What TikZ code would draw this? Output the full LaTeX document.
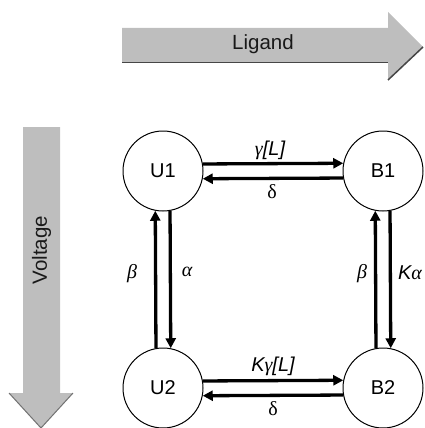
\documentclass[tikz,border=0pt]{standalone}
\usepackage{fontspec}
\setmainfont{Liberation Sans}
\newfontfamily\grk{Liberation Serif}
\usetikzlibrary{arrows.meta}
\definecolor{arrgray}{RGB}{190,190,190}
\definecolor{arrdark}{RGB}{70,70,70}
\definecolor{txtdark}{RGB}{25,25,25}
\tikzset{
  state/.style={circle,draw,line width=1pt,minimum size=80pt,inner sep=0pt,font=\fontsize{20}{24}\selectfont},
  conn/.style={line width=3.3pt,-{Triangle[length=10pt,width=10pt]}},
  lbl/.style={font=\fontsize{20}{24}\selectfont,inner sep=0pt},
  bigtxt/.style={font=\fontsize{20.5}{25}\selectfont,inner sep=0pt,text=txtdark}
}
\begin{document}
\begin{tikzpicture}[x=1pt,y=-1pt]
\useasboundingbox (0,0) rectangle (424,428);
% Ligand arrow
\fill[arrgray] (122,28) -- (388,28) -- (388,12) -- (423,47) -- (388,80) -- (388,63) -- (122,63) -- cycle;
\draw[arrdark,line width=1.8pt] (122,62.5) -- (388,62.5);
\draw[arrdark,line width=1.5pt] (388,80) -- (423,47);
\node[bigtxt] (lig) at (263,44) {Ligand};
% Voltage arrow
\fill[arrgray] (23,127) -- (60,127) -- (60,393) -- (73,393) -- (41,428) -- (9,393) -- (23,393) -- cycle;
\draw[arrgray!60!black,line width=1pt] (9,393) -- (41,428) -- (73,393);
\node[bigtxt,rotate=90] (volt) at (41.5,250) {Voltage};
% States
\node[state] (U1) at (163,171) {U1};
\node[state] (B1) at (383,171) {B1};
\node[state] (U2) at (163,388) {U2};
\node[state] (B2) at (383,388) {B2};
% horizontal connectors
\draw[conn] (U1.10.8) -- (B1.169.2);
\draw[conn] (B1.190.8) -- (U1.349.2);
\draw[conn] (U2.10.8) -- (B2.169.2);
\draw[conn] (B2.190.8) -- (U2.349.2);
% vertical connectors
\draw[conn] (U2.100.8) -- (U1.259.2);
\draw[conn] (U1.280.8) -- (U2.79.2);
\draw[conn] (B2.100.8) -- (B1.259.2);
\draw[conn] (B1.280.8) -- (B2.79.2);
% labels
\node[lbl] (l1) at (270,150) {{\grk\itshape γ}\itshape[L]};
\node[lbl] (l2) at (272,192) {\grk δ};
\node[lbl] (l3) at (273,366) {\itshape K{\grk γ}[L]};
\node[lbl] (l4) at (273,409) {\grk δ};
\node[lbl] (l5) at (132,274) {\grk\itshape β};
\node[lbl] (l6) at (187,272) {\grk\itshape α};
\node[lbl] (l7) at (362,274) {\grk\itshape β};
\node[lbl] (l8) at (410,273) {\itshape K{\grk α}};
\end{tikzpicture}
\end{document}
